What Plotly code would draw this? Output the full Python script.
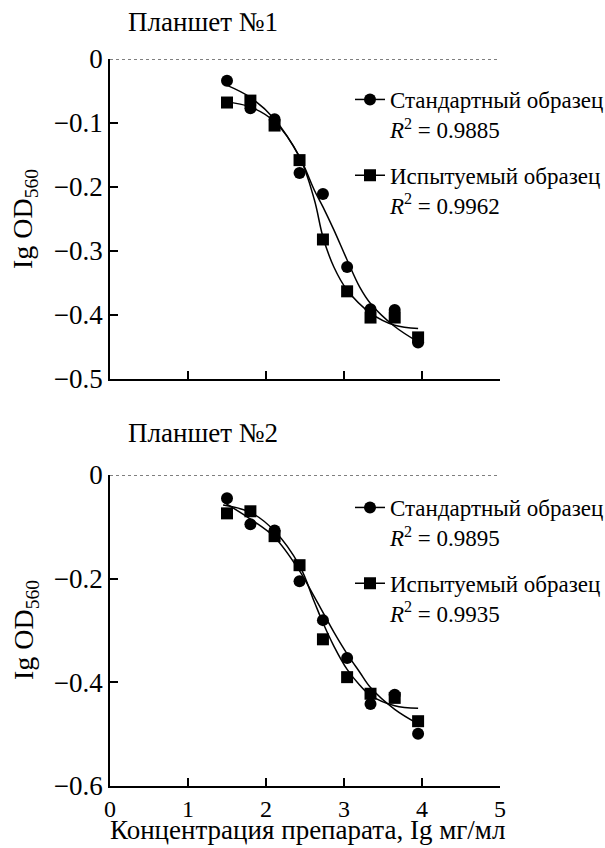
import plotly.graph_objects as go

# ---------------- data ----------------
x_doses = [1.50, 1.80, 2.11, 2.43, 2.73, 3.04, 3.34, 3.65, 3.95]

# Plate 1
p1_std = [-0.034, -0.077, -0.094, -0.178, -0.211, -0.325, -0.391, -0.392, -0.443]
p1_test = [-0.068, -0.065, -0.104, -0.158, -0.282, -0.363, -0.404, -0.404, -0.435]
p1_std_fit_x = [1.48, 1.80, 2.11, 2.43, 2.62, 2.73, 2.87, 3.04, 3.20, 3.34, 3.65, 3.95]
p1_std_fit_y = [-0.040, -0.060, -0.094, -0.153, -0.205, -0.231, -0.267, -0.314, -0.356, -0.382, -0.418, -0.442]
p1_test_fit_x = [1.48, 1.80, 2.11, 2.43, 2.62, 2.73, 2.87, 3.04, 3.34, 3.65, 3.95]
p1_test_fit_y = [-0.067, -0.075, -0.098, -0.153, -0.220, -0.278, -0.325, -0.361, -0.397, -0.416, -0.421]

# Plate 2
p2_std = [-0.045, -0.095, -0.107, -0.205, -0.280, -0.353, -0.442, -0.424, -0.499]
p2_test = [-0.074, -0.070, -0.118, -0.174, -0.317, -0.390, -0.422, -0.430, -0.475]
p2_std_fit_x = [1.45, 1.80, 2.11, 2.43, 2.62, 2.73, 2.87, 3.04, 3.20, 3.34, 3.65, 3.95]
p2_std_fit_y = [-0.052, -0.085, -0.120, -0.185, -0.235, -0.265, -0.303, -0.345, -0.380, -0.410, -0.452, -0.480]
p2_test_fit_x = [1.45, 1.80, 2.11, 2.43, 2.62, 2.73, 2.87, 3.04, 3.20, 3.34, 3.65, 3.95]
p2_test_fit_y = [-0.058, -0.072, -0.108, -0.175, -0.245, -0.285, -0.330, -0.375, -0.405, -0.425, -0.445, -0.450]

r2_p1 = ["0.9885", "0.9962"]
r2_p2 = ["0.9895", "0.9935"]

x_ticks = [0, 1, 2, 3, 4, 5]
y1_ticks = [0, -0.1, -0.2, -0.3, -0.4, -0.5]
y1_text = ["0", "\u22120.1", "\u22120.2", "\u22120.3", "\u22120.4", "\u22120.5"]
y2_ticks = [0, -0.2, -0.4, -0.6]
y2_text = ["0", "\u22120.2", "\u22120.4", "\u22120.6"]

names = ["Стандартный образец", "Испытуемый образец"]

# ---------------- layout helpers ----------------
W, H = 605, 848
FONT = "'Liberation Serif', 'DejaVu Serif', serif"


def px_x(p):
    return p / W


def px_y(p):
    return 1 - p / H


fig = go.Figure()
panels = [
    ("x", "y", "legend", p1_std, p1_test, p1_std_fit_x, p1_std_fit_y, p1_test_fit_x, p1_test_fit_y, r2_p1),
    ("x2", "y2", "legend2", p2_std, p2_test, p2_std_fit_x, p2_std_fit_y, p2_test_fit_x, p2_test_fit_y, r2_p2),
]
for i, (xa, ya, lg, std, test, sfx, sfy, tfx, tfy, r2v) in enumerate(panels):
    line = dict(color="black", width=1.5)
    fig.add_trace(go.Scatter(x=sfx, y=sfy, mode="lines", line=dict(shape="spline", smoothing=1.0, **line),
                             xaxis=xa, yaxis=ya, showlegend=False, hoverinfo="skip"))
    fig.add_trace(go.Scatter(x=tfx, y=tfy, mode="lines", line=dict(shape="spline", smoothing=1.0, **line),
                             xaxis=xa, yaxis=ya, showlegend=False, hoverinfo="skip"))
    fig.add_trace(go.Scatter(x=x_doses, y=std, mode="markers", marker=dict(symbol="circle", size=12, color="black"),
                             xaxis=xa, yaxis=ya, showlegend=False))
    fig.add_trace(go.Scatter(x=x_doses, y=test, mode="markers", marker=dict(symbol="square", size=12, color="black"),
                             xaxis=xa, yaxis=ya, showlegend=False))
    # legend entries (name + R^2 on a second line)
    fig.add_trace(go.Scatter(x=[None], y=[None], mode="lines+markers", xaxis=xa, yaxis=ya, legend=lg,
                             legendgroup=f"s{i}", marker=dict(symbol="circle", size=12, color="black"),
                             line=line, name=f"{names[0]}<br><i>R</i><sup>2</sup> = {r2v[0]}"))
    fig.add_trace(go.Scatter(x=[None], y=[None], mode="lines+markers", xaxis=xa, yaxis=ya, legend=lg,
                             legendgroup=f"t{i}", marker=dict(symbol="square", size=12, color="black"),
                             line=line, name=f"{names[1]}<br><i>R</i><sup>2</sup> = {r2v[1]}"))

axis_common = dict(showline=True, linecolor="black", linewidth=1.5, ticks="inside", ticklen=8,
                   tickwidth=1.5, tickcolor="black", showgrid=False, zeroline=False, automargin=False,
                   tickfont=dict(family=FONT, size=27, color="black"))

x_dom = [px_x(110), px_x(500)]
leg_common = dict(xanchor="left", yanchor="top", valign="top",
                  font=dict(family=FONT, size=23, color="black"), bgcolor="rgba(0,0,0,0)",
                  tracegroupgap=13, itemwidth=30)
fig.update_layout(
    width=W, height=H,
    margin=dict(l=0, r=0, t=0, b=0, autoexpand=False),
    paper_bgcolor="white", plot_bgcolor="white",
    font=dict(family=FONT, color="black"),
    xaxis=dict(domain=x_dom, range=[0, 5], tickvals=x_ticks, showticklabels=False, anchor="y", **axis_common),
    yaxis=dict(domain=[px_y(379), px_y(59)], range=[-0.5, 0], tickvals=y1_ticks, ticktext=y1_text,
               anchor="x", **axis_common),
    xaxis2=dict(domain=x_dom, range=[0, 5], tickvals=x_ticks, anchor="y2", ticklabelstandoff=0,
                **{**axis_common, "tickfont": dict(family=FONT, size=24, color="black")}),
    yaxis2=dict(domain=[px_y(786), px_y(475)], range=[-0.6, 0], tickvals=y2_ticks, ticktext=y2_text,
                anchor="x2", **axis_common),
    legend=dict(x=px_x(350), y=px_y(78), **leg_common),
    legend2=dict(x=px_x(350), y=px_y(486), **leg_common),
    showlegend=True,
)

# dotted zero lines
for xr, yr in (("x", "y"), ("x2", "y2")):
    fig.add_shape(type="line", xref=xr, yref=yr, x0=0, x1=5, y0=0, y1=0,
                  line=dict(color="black", width=1, dash="dot"))

ann_font = dict(family=FONT, size=27, color="black")
fig.add_annotation(text="Планшет №1", xref="paper", yref="paper", x=px_x(126), y=px_y(22),
                   xanchor="left", yanchor="middle", showarrow=False, font=ann_font)
fig.add_annotation(text="Планшет №2", xref="paper", yref="paper", x=px_x(126), y=px_y(433),
                   xanchor="left", yanchor="middle", showarrow=False, font=ann_font)
for yc in (219, 630):
    fig.add_annotation(text="Ig OD<sub>560</sub>", xref="paper", yref="paper", x=px_x(25), y=px_y(yc),
                       xanchor="center", yanchor="middle", textangle=-90, showarrow=False,
                       font=dict(family=FONT, size=28, color="black"))
fig.add_annotation(text="Концентрация препарата, Ig мг/мл", xref="paper", yref="paper",
                   x=px_x(307), y=0.001, xanchor="center", yanchor="bottom", showarrow=False,
                   font=dict(family=FONT, size=27, color="black"))

fig.write_html("out.html")
